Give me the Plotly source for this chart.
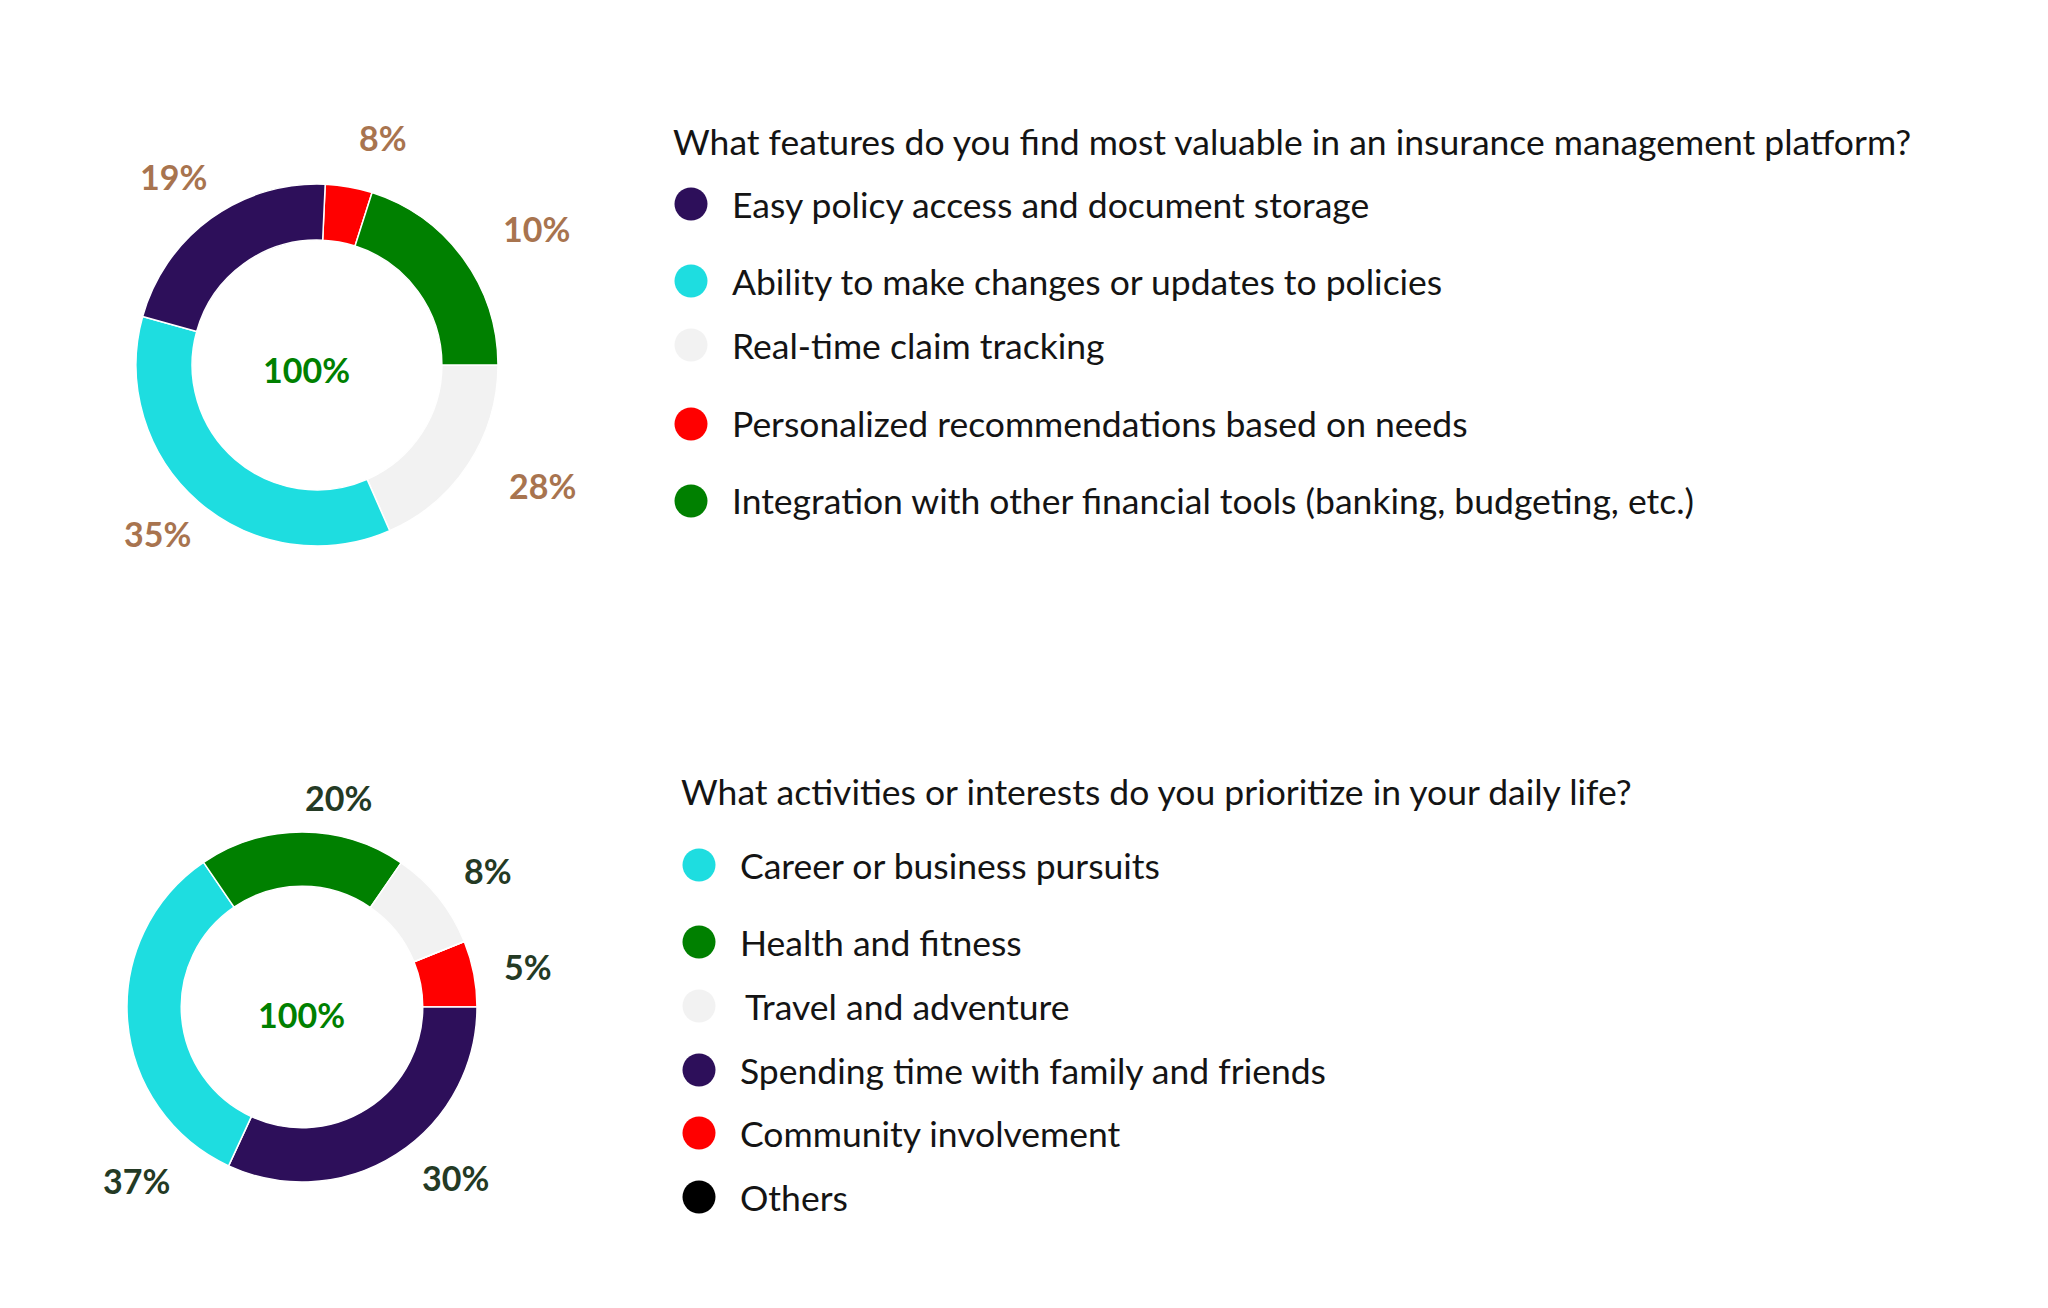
import plotly.graph_objects as go

# ---------------- DATA ----------------
q1_title = "What features do you find most valuable in an insurance management platform?"
q1_categories = [
    "Easy policy access and document storage",
    "Ability to make changes or updates to policies",
    "Real-time claim tracking",
    "Personalized recommendations based on needs",
    "Integration with other financial tools (banking, budgeting, etc.)",
]
q1_slice_values = [21.4, 35.9, 18.4, 4.2, 20.1]   # arc shares as drawn
q1_value_labels = ["19%", "35%", "28%", "8%", "10%"]
q1_total_label = "100%"

q2_title = "What activities or interests do you prioritize in your daily life?"
q2_categories = [
    "Career or business pursuits",
    "Health and fitness",
    "Travel and adventure",
    "Spending time with family and friends",
    "Community involvement",
    "Others",
]
q2_slice_values = [33.6, 19.1, 9.3, 31.9, 6.1, 0.0]
q2_value_labels = ["37%", "20%", "8%", "30%", "5%", ""]
q2_total_label = "100%"

# ---------------- STYLE / LAYOUT ----------------
W, H = 2048, 1308
PAGE_OFFSET = 8   # default page margin around the plot div
FONT = "Lato, 'Open Sans', sans-serif"
PURPLE, CYAN, GRAY, RED, GREEN, BLACK = "#2D0F5A", "#1EDDE0", "#F2F2F2", "#FF0000", "#008000", "#000000"
q1_colors = [PURPLE, CYAN, GRAY, RED, GREEN]
q2_colors = [CYAN, GREEN, GRAY, PURPLE, RED, BLACK]
q1_draw_order = [3, 4, 2, 1, 0]       # clockwise starting at red
q2_draw_order = [4, 3, 0, 1, 2, 5]
q1_rotation, q2_rotation = 2.6, 68
q1_center, q1_radius = (317, 365), 181
q2_center, q2_radius = (302, 1007), 175
HOLE = 0.69

q1_label_pos = [(173, 177), (157, 533), (542, 485), (383, 137), (536, 228)]
q2_label_pos = [(136, 1180), (338, 797), (488, 870), (455, 1177), (528, 967), None]
q1_total_pos = (306, 369)
q2_total_pos = (301, 1015)
q1_label_color = "#A8744F"
q2_label_color = "#243A24"

q1_title_pos = (671, 141)
q1_item_y = [204, 281, 345, 424, 501]
q1_marker_x, q1_text_x = 691, 730
q2_title_pos = (679, 791)
q2_item_y = [865, 942, 1006, 1070, 1133, 1197]
q2_marker_x, q2_text_x = 699, 738
q2_text_dx = [0, 0, 5, 0, 0, 0]
MARKER_R = 16.5
TITLE_SIZE = 35.5
ITEM_SIZE = 35.5
LABEL_SIZE = 34
TEXT_COLOR = "#141414"


def px(x):
    return (x - PAGE_OFFSET) / W


def py(y):
    return 1 - (y - PAGE_OFFSET) / H


def domain(center, r):
    cx, cy = center
    return dict(x=[px(cx - r), px(cx + r)], y=[py(cy + r), py(cy - r)])


fig = go.Figure()

for cats, vals, cols, order, rot, c, r in [
    (q1_categories, q1_slice_values, q1_colors, q1_draw_order, q1_rotation, q1_center, q1_radius),
    (q2_categories, q2_slice_values, q2_colors, q2_draw_order, q2_rotation, q2_center, q2_radius),
]:
    fig.add_trace(go.Pie(
        labels=[cats[i] for i in order],
        values=[vals[i] for i in order],
        marker=dict(colors=[cols[i] for i in order], line=dict(color="white", width=1.5)),
        hole=HOLE, sort=False, direction="clockwise", rotation=rot,
        textinfo="none", hoverinfo="label+percent", showlegend=False,
        domain=domain(c, r),
    ))

annotations = []
shapes = []


def add_text(x, y, text, size, color, weight=400, xanchor="center"):
    annotations.append(dict(
        x=px(x), y=py(y), xref="paper", yref="paper", text=text, showarrow=False,
        xanchor=xanchor, yanchor="middle",
        font=dict(family=FONT, size=size, color=color, weight=weight),
    ))


for labels, positions, color in [(q1_value_labels, q1_label_pos, q1_label_color),
                                 (q2_value_labels, q2_label_pos, q2_label_color)]:
    for lab, pos in zip(labels, positions):
        if pos is not None and lab:
            add_text(pos[0], pos[1], lab, LABEL_SIZE, color, weight=700)

add_text(*q1_total_pos, q1_total_label, LABEL_SIZE, GREEN, weight=700)
add_text(*q2_total_pos, q2_total_label, LABEL_SIZE, GREEN, weight=700)

add_text(*q1_title_pos, q1_title, TITLE_SIZE, TEXT_COLOR, xanchor="left")
add_text(*q2_title_pos, q2_title, TITLE_SIZE, TEXT_COLOR, xanchor="left")

for cats, cols, ys, mx, tx, dxs in [
    (q1_categories, q1_colors, q1_item_y, q1_marker_x, q1_text_x, [0] * 5),
    (q2_categories, q2_colors, q2_item_y, q2_marker_x, q2_text_x, q2_text_dx),
]:
    for cat, col, y, dx in zip(cats, cols, ys, dxs):
        shapes.append(dict(type="circle", xref="paper", yref="paper",
                           x0=px(mx - MARKER_R), x1=px(mx + MARKER_R),
                           y0=py(y + MARKER_R), y1=py(y - MARKER_R),
                           fillcolor=col, line=dict(width=0)))
        add_text(tx + dx, y, cat, ITEM_SIZE, TEXT_COLOR, xanchor="left")

fig.update_layout(
    width=W, height=H,
    margin=dict(l=0, r=0, t=0, b=0),
    paper_bgcolor="white", plot_bgcolor="white",
    annotations=annotations, shapes=shapes,
    font=dict(family=FONT),
)

fig.write_html("out.html")
